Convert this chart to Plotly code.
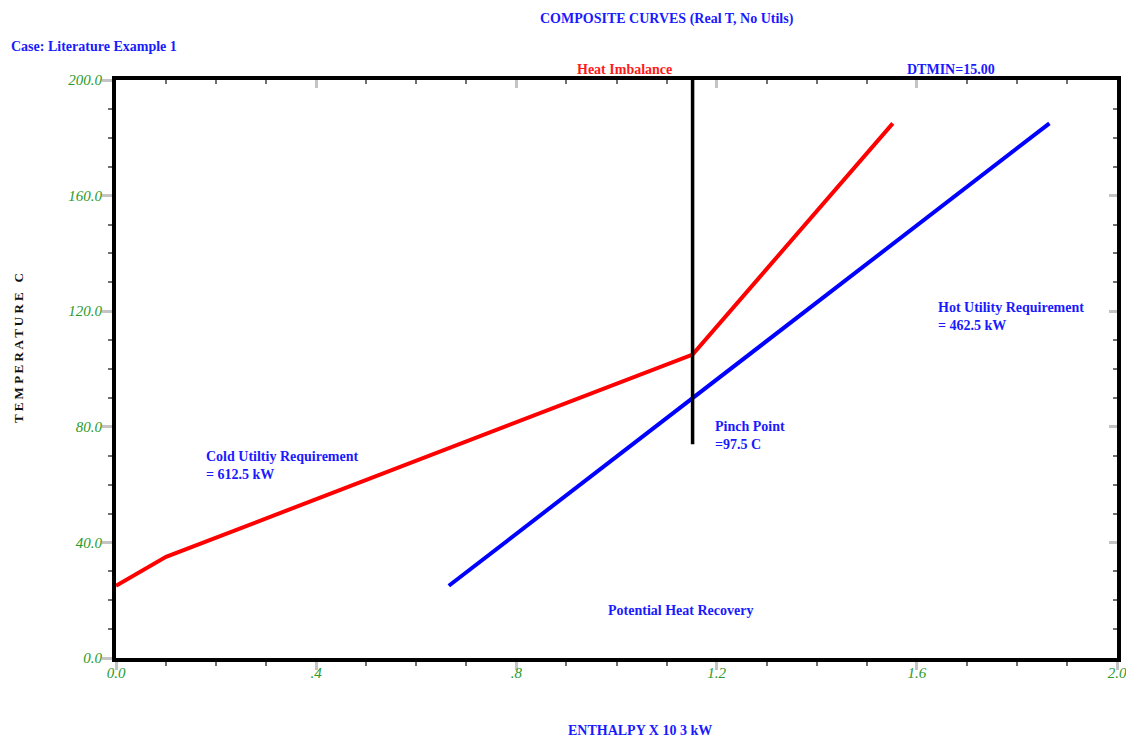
import plotly.graph_objects as go

# ---- data (enthalpy in 10^3 kW, temperature in C) ----
hot_H = [0.0, 0.1, 1.152, 1.552]
hot_T = [25, 35, 105, 185]
cold_H = [0.665, 1.865]
cold_T = [25, 185]
pinch_H = [1.152, 1.152]
pinch_T = [74, 200]

x_tickvals = [0.0, 0.4, 0.8, 1.2, 1.6, 2.0]
x_ticktext = ["0.0", ".4", ".8", "1.2", "1.6", "2.0"]
y_tickvals = [0, 40, 80, 120, 160, 200]
y_ticktext = ["0.0", "40.0", "80.0", "120.0", "160.0", "200.0"]

W, H = 1126, 740
L, R, T, B = 116, 1117, 80, 658  # plot area in page pixels


def fx(px):
    return (px - L) / (R - L)


def fy(py):
    return (B - py) / (B - T)


SERIF = "Liberation Serif"
BLUE = "#1a1aff"
GREEN = "#2a9a2a"

fig = go.Figure()
fig.add_trace(go.Scatter(x=hot_H, y=hot_T, mode="lines",
                         line=dict(color="#ff0000", width=4), showlegend=False))
fig.add_trace(go.Scatter(x=cold_H, y=cold_T, mode="lines",
                         line=dict(color="#0000ff", width=4), showlegend=False))
fig.add_trace(go.Scatter(x=pinch_H, y=pinch_T, mode="lines",
                         line=dict(color="#000000", width=3.5), showlegend=False))
fig.add_trace(go.Scatter(x=[None], y=[None], xaxis="x2", yaxis="y2",
                         showlegend=False, hoverinfo="skip"))

tickfont = dict(family=SERIF, size=15, color=GREEN, style="italic")
xmajor = dict(ticklen=8, tickwidth=3, tickcolor="#c4c4c4")
ymajor = dict(ticklen=10, tickwidth=3, tickcolor="#c4c4c4")
minor_out = dict(ticks="outside", ticklen=4, tickwidth=2, tickcolor="#707070")
minor_in = dict(ticks="inside", ticklen=4, tickwidth=2, tickcolor="#707070")

fig.update_layout(
    width=W, height=H,
    margin=dict(l=L, r=W - R, t=T, b=H - B, autoexpand=False),
    paper_bgcolor="white", plot_bgcolor="white",
    xaxis=dict(range=[0, 2], showgrid=False, zeroline=False,
               showline=True, linewidth=4, linecolor="black", mirror=True,
               ticks="outside", tickvals=x_tickvals, ticktext=x_ticktext,
               tickfont=tickfont, ticklabeloverflow="allow", ticklabelstandoff=-10,
               minor=dict(dtick=0.1, **minor_out), **xmajor),
    yaxis=dict(range=[0, 200], showgrid=False, zeroline=False,
               showline=True, linewidth=4, linecolor="black", mirror=True,
               ticks="outside", tickvals=y_tickvals, ticktext=y_ticktext,
               tickfont=tickfont, ticklabeloverflow="allow", ticklabelstandoff=-3,
               minor=dict(dtick=10, **minor_out), **ymajor),
    xaxis2=dict(range=[0, 2], overlaying="x", side="top", showgrid=False,
                zeroline=False, showline=False, ticks="inside",
                tickvals=x_tickvals, showticklabels=False,
                minor=dict(dtick=0.1, **minor_in), **xmajor),
    yaxis2=dict(range=[0, 200], overlaying="y", side="right", showgrid=False,
                zeroline=False, showline=False, ticks="inside",
                tickvals=y_tickvals, showticklabels=False,
                minor=dict(dtick=10, **minor_in), **xmajor),
)


def ann(text, px, py, color=BLUE, xanchor="center", size=14, align="left", angle=0):
    fig.add_annotation(text=text, x=fx(px), y=fy(py), xref="paper", yref="paper",
                       xanchor=xanchor, yanchor="middle", showarrow=False,
                       align=align, textangle=angle,
                       font=dict(family=SERIF, size=size, color=color, weight="bold"))


ann("COMPOSITE CURVES (Real T, No Utils)", 667, 19)
ann("Case: Literature Example 1", 9, 47, xanchor="left")
ann("Heat Imbalance", 624, 69, color="#ff1a1a")
ann("DTMIN=15.00", 951, 69)
ann("Hot Utility Requirement<br>= 462.5 kW", 936, 316, xanchor="left")
ann("Cold Utiltiy Requirement<br>= 612.5 kW", 204, 465, xanchor="left")
ann("Pinch Point<br>=97.5 C", 713, 435, xanchor="left")
ann("Potential Heat Recovery", 680, 610)
ann("ENTHALPY X 10 3 kW", 640, 730)
ann("T E M P E R A T U R E   C", 18, 348, color="#111111", size=13, angle=-90)

fig.write_html(
    "out.html",
    config={"displayModeBar": False},
    post_script="document.body.style.margin='0';document.body.style.overflow='hidden';",
)
